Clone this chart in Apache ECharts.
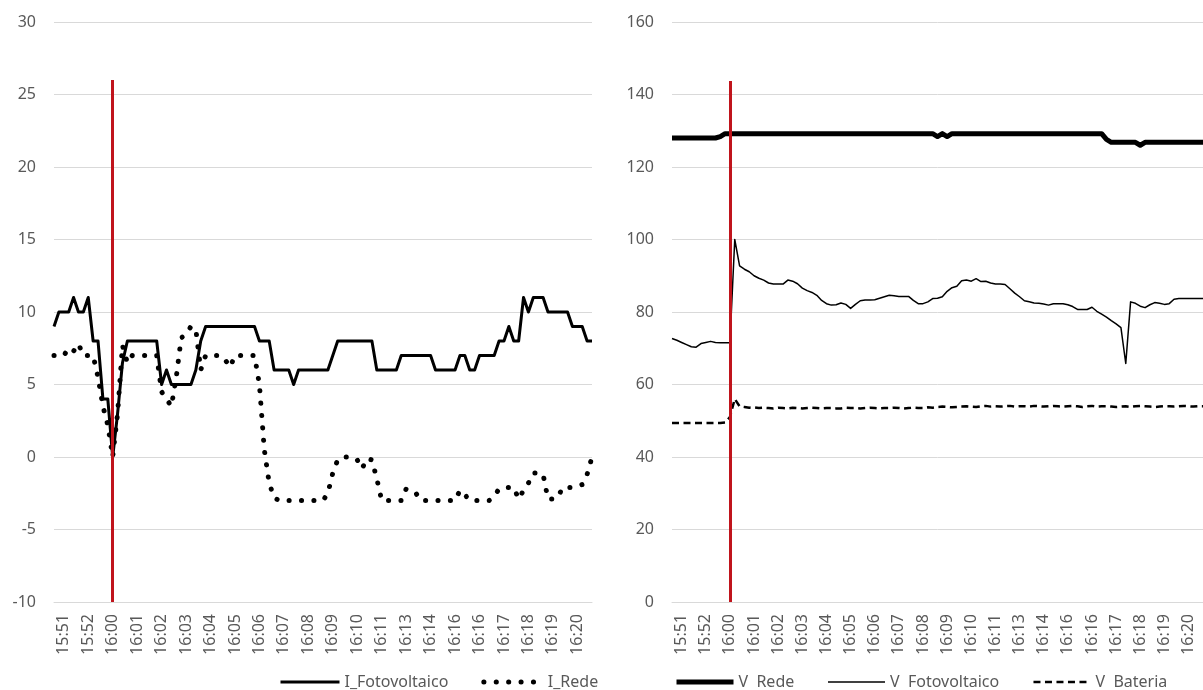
<!DOCTYPE html>
<html>
<head>
<meta charset="utf-8">
<script src="https://cdn.jsdelivr.net/npm/echarts@6/dist/echarts.min.js"></script>
<style>
html,body{margin:0;padding:0;background:#fff;}
#chart{width:1203px;height:690px;}
</style>
</head>
<body>
<div id="chart"></div>
<script>
// ---- tick labels of the category axis (one every 5 samples) ----
const tickLabels = ['15:51','15:52','16:00','16:01','16:02','16:03','16:04','16:05','16:06','16:07','16:08',
  '16:09','16:10','16:11','16:13','16:14','16:16','16:16','16:17','16:18','16:19','16:20'];
const firstTickIndex = 2;
const samplesPerTick = 5;

// ---- current chart (A) ----
const iFotovoltaico = [
  9,10,10,10,11,10,10,11,8,8,
  4,4,0,3,6.5,8,8,8,8,8,
  8,8,5,6,5,5,5,5,5,6,
  8,9,9,9,9,9,9,9,9,9,
  9,9,8,8,8,6,6,6,6,5,
  6,6,6,6,6,6,6,7,8,8,
  8,8,8,8,8,8,6,6,6,6,
  6,7,7,7,7,7,7,7,6,6,
  6,6,6,7,7,6,6,7,7,7,
  7,8,8,9,8,8,11,10,11,11,
  11,10,10,10,10,10,9,9,9,8,
  8
];
const iRede = [
  7,7,7,7.5,7.3,7.8,7,7,7,5.5,
  3.5,2.2,0,3,7.7,6.5,7,7,7,7,
  7,7,4.5,4,3.5,5.5,8.2,8.5,9,8.8,
  6,7,7,7,7,6.7,6.2,7,7,7,
  7,7,5,0.5,-1.8,-2.8,-3,-3,-3,-3,
  -3,-3,-3,-3,-3,-3,-2.5,-1.1,-0.2,0,
  0,0,-0.2,-0.8,-0.1,-0.2,-1.5,-3,-3,-3,
  -3,-3,-2.2,-2.3,-2.5,-3,-3,-3,-3,-3,
  -3,-3,-3,-2.3,-2.6,-3,-3,-3,-3,-3,
  -2.7,-2.2,-2.1,-2.1,-2.1,-2.9,-2.3,-1.8,-1.1,-1.1,
  -1.2,-2.9,-2.9,-2.8,-2.1,-2.1,-2.1,-2,-1.9,-1.2,
  0
];

// ---- voltage chart (B) ----
const vRede = [
  128,128,128,128,128,128,128,128,128,128,
  128.4,129.2,129.2,129.2,129.2,129.2,129.2,129.2,129.2,129.2,
  129.2,129.2,129.2,129.2,129.2,129.2,129.2,129.2,129.2,129.2,
  129.2,129.2,129.2,129.2,129.2,129.2,129.2,129.2,129.2,129.2,
  129.2,129.2,129.2,129.2,129.2,129.2,129.2,129.2,129.2,129.2,
  129.2,129.2,129.2,129.2,129.2,128.4,129.2,128.4,129.2,129.2,
  129.2,129.2,129.2,129.2,129.2,129.2,129.2,129.2,129.2,129.2,
  129.2,129.2,129.2,129.2,129.2,129.2,129.2,129.2,129.2,129.2,
  129.2,129.2,129.2,129.2,129.2,129.2,129.2,129.2,129.2,129.2,
  127.6,126.8,126.8,126.8,126.8,126.8,126.8,126,126.8,126.8,
  126.8,126.8,126.8,126.8,126.8,126.8,126.8,126.8,126.8,126.8,
  126.8
];
const vFotovoltaico = [
  72.7,72.2,71.6,71.0,70.4,70.3,71.3,71.6,71.9,71.6,
  71.5,71.5,71.5,100,92.7,91.8,91.1,90.0,89.3,88.8,
  88.0,87.7,87.7,87.7,88.8,88.5,87.8,86.6,85.9,85.4,
  84.6,83.2,82.3,81.9,82.0,82.5,82.1,81.0,82.1,83.1,
  83.3,83.3,83.4,83.8,84.2,84.6,84.5,84.3,84.3,84.3,
  83.2,82.3,82.3,82.8,83.7,83.8,84.2,85.7,86.7,87.1,
  88.6,88.8,88.5,89.2,88.4,88.5,88.0,87.7,87.7,87.6,
  86.4,85.2,84.2,83.1,82.8,82.5,82.4,82.2,81.9,82.3,
  82.3,82.3,82.0,81.5,80.7,80.7,80.7,81.3,80.2,79.4,
  78.6,77.6,76.7,75.7,65.8,82.8,82.4,81.6,81.2,82.0,
  82.6,82.4,82.1,82.3,83.5,83.7,83.7,83.7,83.7,83.7,
  83.7
];
const vBateria = [
  49.4,49.4,49.4,49.4,49.4,49.4,49.4,49.4,49.4,49.4,
  49.4,49.5,51,56,54,53.8,53.6,53.7,53.5,53.6,
  53.5,53.4,53.6,53.5,53.4,53.6,53.5,53.4,53.5,53.6,
  53.5,53.4,53.5,53.5,53.4,53.4,53.6,53.5,53.5,53.4,
  53.5,53.6,53.5,53.4,53.5,53.5,53.6,53.5,53.4,53.5,
  53.6,53.5,53.5,53.7,53.6,53.8,53.9,53.8,53.7,53.8,
  53.9,54,53.9,53.8,54,54.1,53.9,54,53.9,54,
  54.1,53.9,54,54,53.9,54.1,54,53.9,54,54.1,
  54,53.9,54,54.1,54,53.8,54,54.1,53.9,54,
  54,53.9,53.8,53.9,54,53.8,54,54.1,54,53.9,
  53.8,53.9,54,54,53.9,54,54.1,54,53.9,54,
  54
];

// ---- event marker (red vertical line at 16:00) ----
const eventIndex = 12;
const eventRangeA = [26, -10];
const eventRangeB = [143.7, 0];

const sampleIds = iFotovoltaico.map((_, i) => i);
const FONT = "'Noto Sans', 'Open Sans', sans-serif";
const GRAY = '#595959';
const GRID = '#d9d9d9';

function isTick(idx) {
  const k = idx - firstTickIndex;
  return k >= 0 && k % samplesPerTick === 0 && k / samplesPerTick < tickLabels.length;
}
function tickText(val, idx) {
  return isTick(idx) ? tickLabels[(idx - firstTickIndex) / samplesPerTick] : '';
}

function xAxis(gi) {
  return {
    type: 'category', gridIndex: gi, data: sampleIds, boundaryGap: false,
    axisLine: { onZero: false, lineStyle: { color: GRID, width: 1 } },
    axisTick: { show: false },
    splitLine: { show: false },
    axisLabel: { interval: (i) => isTick(i), formatter: tickText, rotate: 90, margin: 12,
      color: GRAY, fontSize: 16, fontFamily: FONT }
  };
}
function yAxis(gi, min, max, interval) {
  return {
    type: 'value', gridIndex: gi, min, max, interval,
    axisLine: { show: false }, axisTick: { show: false },
    splitLine: { lineStyle: { color: GRID, width: 1 } },
    axisLabel: { margin: 18, color: GRAY, fontSize: 16, fontFamily: FONT }
  };
}
function marker(range) {
  return {
    silent: true, symbol: ['none', 'none'], label: { show: false },
    lineStyle: { color: '#c0141c', width: 3, type: 'solid' },
    data: [[{ coord: [eventIndex, range[0]] }, { coord: [eventIndex, range[1]] }]]
  };
}

const legendText = { color: GRAY, fontSize: 16, fontFamily: FONT };
const legendBase = {
  top: 669, itemHeight: 14, textStyle: legendText,
  itemStyle: { opacity: 0 },
  lineStyle: { width: 'inherit', cap: 'inherit', type: 'inherit' }
};

const chart = echarts.init(document.getElementById('chart'), null, { renderer: 'canvas' });
chart.setOption({
  animation: false,
  backgroundColor: '#fff',
  grid: [
    { left: 54, top: 22, width: 538, height: 580 },
    { left: 672, top: 22, width: 538, height: 580 }
  ],
  xAxis: [xAxis(0), xAxis(1)],
  yAxis: [yAxis(0, -10, 30, 5), yAxis(1, 0, 160, 20)],
  legend: [
    Object.assign({}, legendBase, { data: ['I_Fotovoltaico', 'I_Rede'], left: 274, itemWidth: 59, itemGap: 33 }),
    Object.assign({}, legendBase, { data: ['V  Rede', 'V  Fotovoltaico', 'V  Bateria'], left: 669, itemWidth: 57, itemGap: 33 })
  ],
  series: [
    { name: 'I_Fotovoltaico', type: 'line', xAxisIndex: 0, yAxisIndex: 0, data: iFotovoltaico,
      symbol: 'none', color: '#000', lineStyle: { color: '#000', width: 3, join: 'round' },
      markLine: marker(eventRangeA), z: 3 },
    { name: 'I_Rede', type: 'line', xAxisIndex: 0, yAxisIndex: 0, data: iRede,
      symbol: 'none', color: '#000',
      lineStyle: { color: '#000', width: 5, type: [0.1, 12.3], cap: 'round', join: 'round' } },
    { name: 'V  Rede', type: 'line', xAxisIndex: 1, yAxisIndex: 1, data: vRede,
      symbol: 'none', color: '#000', lineStyle: { color: '#000', width: 5, join: 'round' },
      markLine: marker(eventRangeB) },
    { name: 'V  Fotovoltaico', type: 'line', xAxisIndex: 1, yAxisIndex: 1, data: vFotovoltaico,
      symbol: 'none', color: '#000', lineStyle: { color: '#000', width: 1.5, join: 'round' } },
    { name: 'V  Bateria', type: 'line', xAxisIndex: 1, yAxisIndex: 1, data: vBateria,
      symbol: 'none', color: '#000', lineStyle: { color: '#000', width: 2.5, type: [7, 4.5] } }
  ]
});
</script>
</body>
</html>
